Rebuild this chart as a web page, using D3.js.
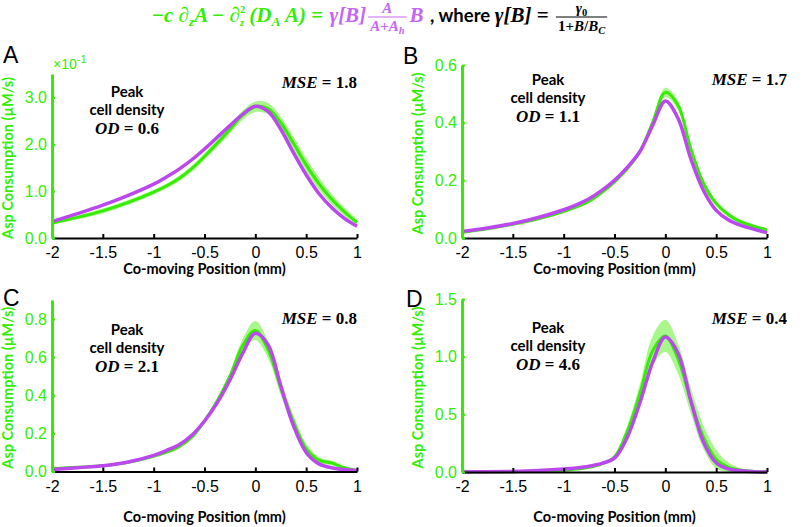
<!DOCTYPE html>
<html><head><meta charset="utf-8">
<script src="https://cdn.jsdelivr.net/npm/d3@7"></script>
<style>body{margin:0;background:#fff}</style></head>
<body>
<svg id="c" width="805" height="527" xmlns="http://www.w3.org/2000/svg"></svg>
<script>
// ---------------- DATA ----------------
const positions = [-2,-1.75,-1.5,-1.25,-1,-0.875,-0.75,-0.625,-0.5,-0.375,-0.25,-0.125,0,0.125,0.25,0.375,0.5,0.625,0.75,0.875,1];
const xTicks = [-2,-1.5,-1,-0.5,0,0.5,1];
const xTickLabels = ["-2","-1.5","-1","-0.5","0","0.5","1"];

// Panel A (values in units of 10^-1 uM/s)
const meanA  = [0.32,0.44,0.58,0.76,0.98,1.11,1.27,1.48,1.74,2.02,2.32,2.62,2.80,2.76,2.46,2.02,1.56,1.16,0.83,0.56,0.33];
const sdA    = [0.04,0.04,0.05,0.05,0.05,0.05,0.06,0.06,0.07,0.08,0.09,0.10,0.11,0.12,0.13,0.14,0.14,0.13,0.11,0.09,0.07];
const modelA = [0.35,0.52,0.70,0.91,1.15,1.30,1.47,1.67,1.90,2.15,2.40,2.64,2.81,2.70,2.32,1.82,1.35,0.95,0.65,0.42,0.25];
const yTicksA = [0,1,2,3];

// Panel B
const meanB  = [0.020,0.032,0.048,0.067,0.092,0.108,0.128,0.158,0.195,0.240,0.300,0.400,0.505,0.460,0.310,0.190,0.120,0.080,0.055,0.040,0.028];
const sdB    = [0.003,0.003,0.003,0.004,0.004,0.004,0.005,0.005,0.006,0.007,0.008,0.012,0.016,0.016,0.014,0.012,0.010,0.008,0.007,0.006,0.005];
const modelB = [0.023,0.035,0.050,0.071,0.098,0.115,0.136,0.165,0.200,0.245,0.300,0.390,0.475,0.415,0.275,0.165,0.096,0.062,0.043,0.030,0.018];
const yTicksB = [0,0.2,0.4,0.6];

// Panel C
const meanC  = [0.015,0.022,0.030,0.048,0.080,0.100,0.130,0.180,0.265,0.370,0.500,0.660,0.740,0.640,0.440,0.260,0.120,0.060,0.045,0.020,0.005];
const sdC    = [0.004,0.004,0.004,0.005,0.006,0.006,0.007,0.008,0.010,0.014,0.020,0.035,0.050,0.045,0.040,0.035,0.025,0.015,0.012,0.008,0.004];
const modelC = [0.010,0.020,0.030,0.050,0.085,0.110,0.140,0.190,0.265,0.360,0.480,0.620,0.725,0.665,0.450,0.240,0.100,0.040,0.020,0.010,0.005];
const yTicksC = [0,0.2,0.4,0.6,0.8];

// Panel D
const meanD  = [0.000,0.002,0.003,0.006,0.015,0.025,0.040,0.070,0.130,0.350,0.680,1.050,1.180,0.980,0.620,0.300,0.110,0.040,0.015,0.005,0.000];
const sdD    = [0.001,0.001,0.001,0.002,0.004,0.005,0.006,0.008,0.020,0.050,0.080,0.130,0.140,0.130,0.110,0.100,0.080,0.040,0.015,0.005,0.002];
const modelD = [0.000,0.002,0.005,0.012,0.025,0.035,0.050,0.075,0.120,0.300,0.600,0.950,1.170,1.030,0.620,0.260,0.080,0.025,0.010,0.003,0.000];
const yTicksD = [0,0.5,1,1.5];

const panelLetters = ["A","B","C","D"];
const mseValues = ["1.8","1.7","0.8","0.4"];
const odValues = ["0.6","1.1","2.1","4.6"];

// ---------------- LAYOUT ----------------
const GREEN = "#33ee00", BAND = "#9ff57f", VIOLET = "#bb48ee";
const panels = [
  {mean:meanA, sd:sdA, model:modelA, yt:yTicksA, ymax:3.5, L:52, R:357, T:74, B:238, fmt:d3.format(".1f"), exp:true, xl:274, lx:3, ly:63},
  {mean:meanB, sd:sdB, model:modelB, yt:yTicksB, ymax:0.6, L:462, R:767, T:65, B:238, fmt:d3.format(".1f"), xl:274, lx:403, ly:64},
  {mean:meanC, sd:sdC, model:modelC, yt:yTicksC, ymax:0.9, L:52, R:357, T:300, B:471.5, fmt:d3.format(".1f"), xl:522, lx:3, ly:306},
  {mean:meanD, sd:sdD, model:modelD, yt:yTicksD, ymax:1.5, L:462, R:767, T:299, B:472, fmt:d3.format(".1f"), xl:522, lx:406, ly:307}
];
const annot = [
  {peakX:127, peakY:97, mseX:357, mseY:88},
  {peakX:548, peakY:85, mseX:787, mseY:85},
  {peakX:127, peakY:335, mseX:357, mseY:324},
  {peakX:548, peakY:333, mseX:787, mseY:324}
];

const svg = d3.select("#c");
const SANS = "Liberation Sans, Arial, sans-serif";
const LABEL = "Lato, 'Open Sans', sans-serif";
const MATH = "'Liberation Serif', 'DejaVu Serif', serif";

function mathText(g, parts, attrs) {
  const t = g.append("text").attr("font-family",MATH).attr("font-weight","bold").attr("font-size",16).attr("fill","#000");
  Object.entries(attrs).forEach(([k,v])=>t.attr(k,v));
  parts.forEach(p=>t.append("tspan").attr("font-style",p.it?"italic":"normal").text(p.t));
  return t;
}

panels.forEach((p,i)=>{
  const x = d3.scaleLinear().domain([-2,1]).range([p.L,p.R]);
  const y = d3.scaleLinear().domain([0,p.ymax]).range([p.B,p.T]);
  const g = svg.append("g");
  const pts = positions.map((v,k)=>({x:v, m:p.mean[k], s:p.sd[k], f:p.model[k]}));
  const curve = d3.curveCatmullRom.alpha(0.5);
  g.append("path").datum(pts)
    .attr("d", d3.area().x(d=>x(d.x)).y0(d=>y(Math.max(0,d.m-d.s))).y1(d=>y(d.m+d.s)).curve(curve))
    .attr("fill", BAND).attr("opacity",0.9);
  g.append("path").datum(pts)
    .attr("d", d3.line().x(d=>x(d.x)).y(d=>y(d.m)).curve(curve))
    .attr("fill","none").attr("stroke",GREEN).attr("stroke-width",3);
  g.append("path").datum(pts)
    .attr("d", d3.line().x(d=>x(d.x)).y(d=>y(d.f)).curve(curve))
    .attr("fill","none").attr("stroke",VIOLET).attr("stroke-width",3.5);

  // x axis
  const xa = g.append("g").attr("transform",`translate(0,${p.B})`)
    .call(d3.axisBottom(x).tickValues(xTicks).tickFormat((d,k)=>xTickLabels[k]).tickSizeInner(-4).tickSizeOuter(0).tickPadding(9));
  xa.select(".domain").attr("stroke","#000").attr("stroke-width",2);
  xa.selectAll(".tick line").attr("stroke","#000").attr("stroke-width",2);
  xa.selectAll("text").attr("font-family",SANS).attr("font-size",16).attr("fill","#000");

  // y axis
  const ya = g.append("g").attr("transform",`translate(${p.L},0)`)
    .call(d3.axisLeft(y).tickValues(p.yt).tickFormat(p.fmt).tickSizeInner(-3).tickSizeOuter(0).tickPadding(5));
  ya.select(".domain").attr("stroke",GREEN).attr("stroke-width",3);
  ya.selectAll(".tick line").attr("stroke",GREEN).attr("stroke-width",2);
  ya.selectAll("text").attr("font-family",SANS).attr("font-size",16).attr("fill",GREEN);

  if (p.exp) {
    const t = g.append("text").attr("x",p.L+1).attr("y",p.T-5).attr("font-family",SANS).attr("font-size",14).attr("fill",GREEN);
    t.append("tspan").text("×10");
    t.append("tspan").attr("dy",-6).attr("font-size",11).text("-1");
  }

  // axis titles
  g.append("text").attr("transform",`translate(${p.L-39},${(p.T+p.B)/2+2}) rotate(-90)`)
    .attr("text-anchor","middle").attr("font-family",LABEL).attr("font-weight","bold").attr("font-size",14.5)
    .attr("fill",GREEN).text("Asp Consumption (µM/s)");
  g.append("text").attr("x",(p.L+p.R)/2).attr("y",p.xl)
    .attr("text-anchor","middle").attr("font-family",LABEL).attr("font-weight","bold").attr("font-size",14.5)
    .attr("fill","#000").text("Co-moving Position (mm)");

  // panel letter
  g.append("text").attr("x",p.lx).attr("y",p.ly).attr("font-family",SANS).attr("font-size",23).attr("fill","#000")
    .text(panelLetters[i]);

  // annotations
  const a = annot[i];
  g.append("text").attr("x",a.peakX).attr("y",a.peakY).attr("text-anchor","middle")
    .attr("font-family",LABEL).attr("font-weight","bold").attr("font-size",15).text("Peak");
  g.append("text").attr("x",a.peakX).attr("y",a.peakY+18).attr("text-anchor","middle")
    .attr("font-family",LABEL).attr("font-weight","bold").attr("font-size",15).text("cell density");
  mathText(g, [{t:"OD",it:true},{t:" = "+odValues[i]}], {x:a.peakX, y:a.peakY+37, "text-anchor":"middle", "font-size":17});
  mathText(g, [{t:"MSE",it:true},{t:" = "+mseValues[i]}], {x:a.mseX, y:a.mseY, "text-anchor":"end", "font-size":17});
});

// ---------------- TITLE ----------------
const tg = svg.append("g");
let cx = 152;
const BASE = 22;
const MAIN = 21, SMALL = 13.5, FR = 15, FRS = 10.5;
// A run: one text element made of tspans; segments {t, it, s(small), ss(tiny), dy, back(overlay on previous)}
function run(segs, color, fam) {
  const t = tg.append("text").attr("x",cx).attr("y",BASE).attr("font-family",fam||MATH)
    .attr("font-weight","bold").attr("font-size",MAIN).attr("fill",color).style("white-space","pre");
  let cur = 0, lastW = 0;
  segs.forEach(sg=>{
    const s = t.append("tspan").attr("font-style", sg.it?"italic":"normal").text(sg.t);
    if (sg.s) s.attr("font-size",SMALL);
    if (sg.ss) s.attr("font-size",10.5);
    const dy = (sg.dy||0) - cur;
    if (dy) s.attr("dy",dy);
    cur = sg.dy||0;
    if (sg.back) s.attr("dx",-lastW);
    lastW = s.node().getComputedTextLength();
  });
  return t;
}
function frac(numParts, denParts, color) {
  const x0 = cx + 2;
  const mk = (parts, yb) => {
    const t = tg.append("text").attr("y",yb).attr("font-family",MATH).attr("font-weight","bold")
      .attr("font-size",FR).attr("fill",color);
    parts.forEach(pp=>{
      const s = t.append("tspan").attr("font-style", pp.up?"normal":"italic").text(pp.t);
      if (pp.sub) s.attr("font-size",FRS).attr("dy",3);
    });
    return t;
  };
  const n = mk(numParts, 13), d = mk(denParts, 31);
  const wn = n.node().getComputedTextLength(), wd = d.node().getComputedTextLength();
  const w = Math.max(wn,wd)+4;
  n.attr("x", x0 + (w-wn)/2); d.attr("x", x0 + (w-wd)/2);
  tg.append("line").attr("x1",x0).attr("x2",x0+w).attr("y1",17).attr("y2",17).attr("stroke",color).attr("stroke-width",1.2);
  cx = x0 + w + 3;
}
const endOf = t => { const b = t.node().getBBox(); return b.x + b.width; };
const TG = GREEN, TV = "#c566f5";
const g1 = run([
  {t:"−"},{t:"c ∂",it:true},{t:"z",it:true,s:true,dy:4},{t:"A ",it:true},{t:"−"},{t:" ∂",it:true},
  {t:"2",ss:true,dy:-9},{t:"z",it:true,ss:true,dy:4,back:true},
  {t:" (D",it:true},{t:"A",it:true,s:true,dy:4},{t:" A) ",it:true},{t:"= "}
], TG);
cx = endOf(g1) + 1;
const g2 = run([{t:"γ[B]",it:true}], TV);
cx = endOf(g2);
frac([{t:"A"}], [{t:"A"},{t:"+",up:true},{t:"A"},{t:"h",sub:true}], TV);
const g3 = run([{t:"B",it:true}], TV);
cx = endOf(g3) + 2;
const g4 = run([{t:" , where "}], "#000", LABEL);
g4.attr("font-size",18.5);
cx = endOf(g4);
const g5 = run([{t:"γ[B] ",it:true},{t:"= "}], "#000");
cx = endOf(g5);
frac([{t:"γ"},{t:"0",sub:true,up:true}], [{t:"1+",up:true},{t:"B"},{t:"/",up:true},{t:"B"},{t:"C",sub:true}], "#000");
</script>
</body></html>
